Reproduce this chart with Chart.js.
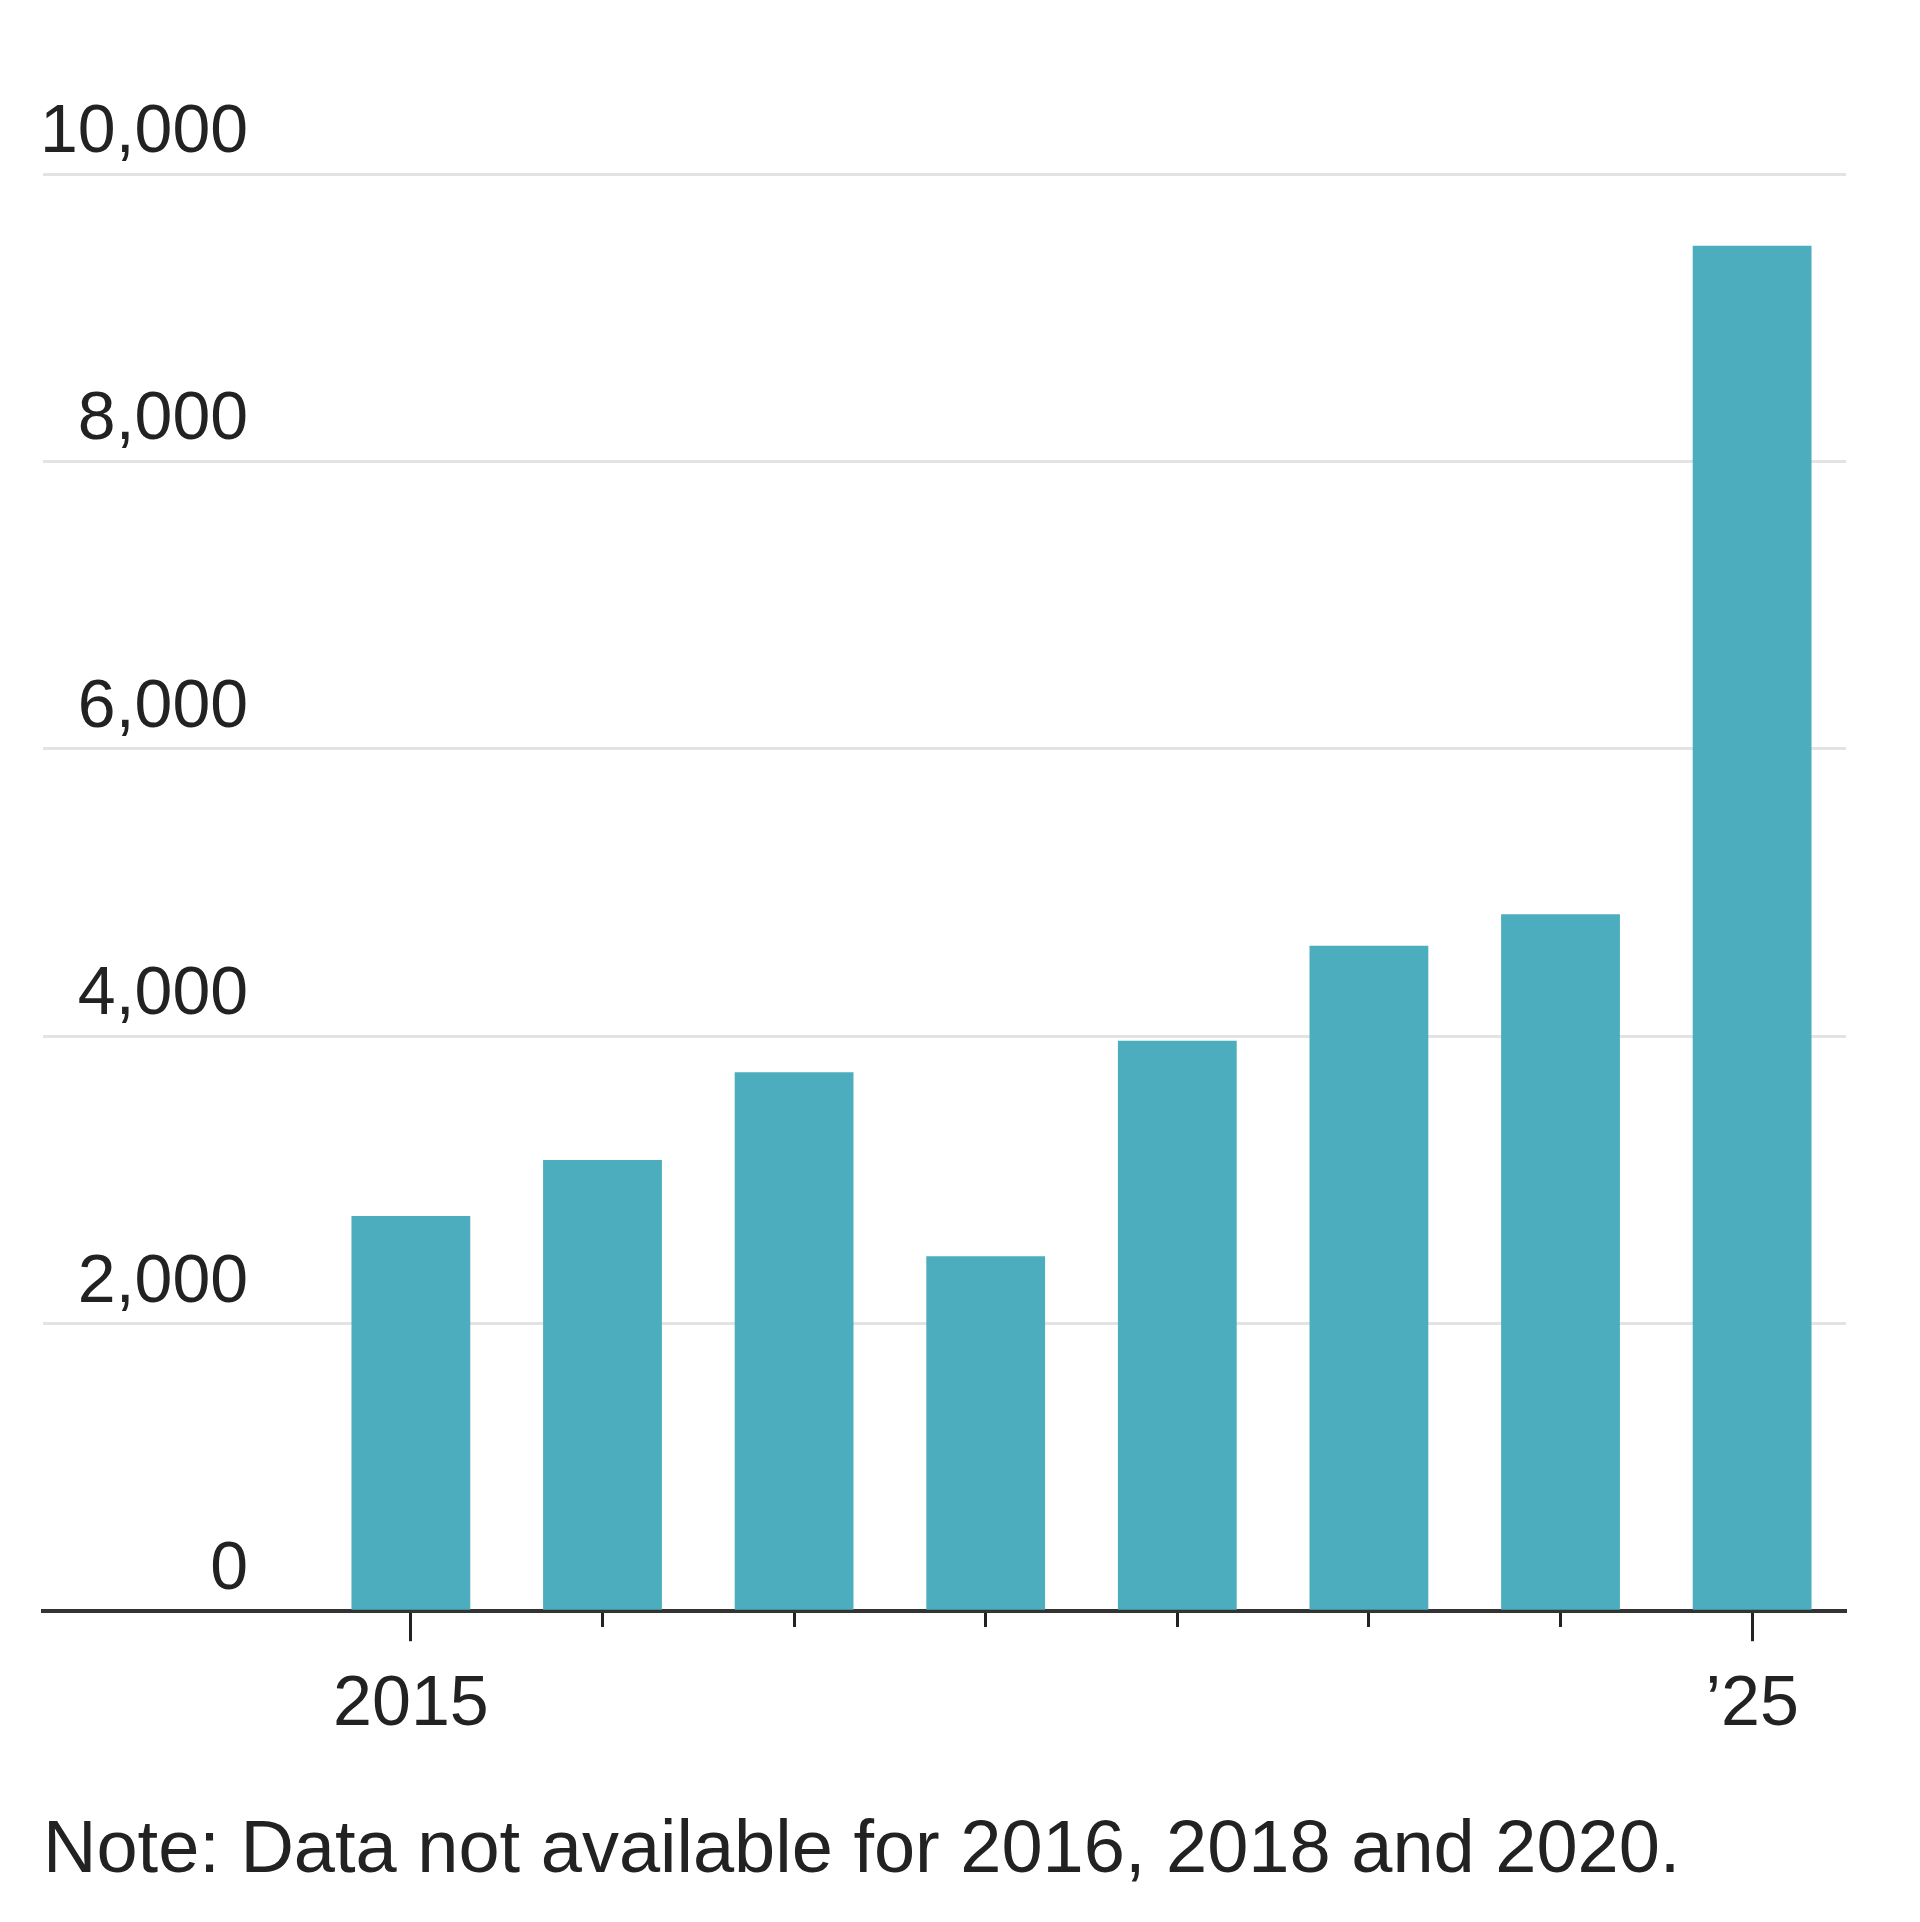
<!DOCTYPE html>
<html>
<head>
<meta charset="utf-8">
<script src="https://cdn.jsdelivr.net/npm/chart.js@4"></script>
<style>
  body { margin: 0; background: #fff; }
  #wrap { width: 1920px; height: 1922px; }
</style>
</head>
<body>
<div id="wrap"><canvas id="my-chart" width="1920" height="1922"></canvas></div>
<script>
const years = [2015, 2017, 2019, 2021, 2022, 2023, 2024, 2025];
const counts = [2750, 3140, 3750, 2470, 3970, 4630, 4850, 9500];
const yTicks = [0, 2000, 4000, 6000, 8000, 10000];
const xTickLabels = ["2015", "", "", "", "", "", "", "\u201925"];
const note = "Note: Data not available for 2016, 2018 and 2020.";

const tickFont = { family: "'Liberation Sans', Arial, sans-serif", size: 68 };

// measure widest y label so the mirrored labels end at the same right edge
const mctx = document.createElement("canvas").getContext("2d");
mctx.font = tickFont.size + "px " + tickFont.family;
const widest = mctx.measureText("10,000").width;
const labelRight = 250;
const plotLeft = 43;

const ctx = document.getElementById("my-chart").getContext("2d");
const chart = new Chart(ctx, {
  type: "bar",
  data: {
    datasets: [
      {
        data: years.map((y, i) => ({ x: i, y: counts[i] })),
        backgroundColor: "#4badbd",
        barPercentage: 0.62,
        categoryPercentage: 1,
      },
    ],
  },
  options: {
    responsive: false,
    animation: false,
    layout: { padding: { left: plotLeft, right: 74, top: 174, bottom: 26 } },
    plugins: {
      legend: { display: false },
      tooltip: { enabled: false },
      title: {
        display: true,
        position: "bottom",
        align: "start",
        text: note,
        color: "#222",
        font: { family: "'Liberation Sans', Arial, sans-serif", size: 74, weight: "normal" },
        padding: { top: 36, bottom: 0 },
      },
    },
    scales: {
      x: {
        type: "linear",
        min: -1.92,
        max: 7.49,
        offset: false,
        afterBuildTicks: (scale) => {
          scale.ticks = years.map((y, i) => ({ value: i }));
        },
        ticks: {
          autoSkip: false,
          maxRotation: 0,
          padding: 23,
          color: "#222",
          font: { family: "'Liberation Sans', Arial, sans-serif", size: 70 },
          callback: (v) => xTickLabels[v],
        },
        grid: {
          offset: false,
          drawOnChartArea: false,
          drawTicks: true,
          tickLength: 30,
          tickColor: "#222",
          tickWidth: 3,
          tickBorderDash: (c) => (c.index === 0 || c.index === years.length - 1 ? [] : [14, 60]),
        },
        border: { display: true, color: "#333", width: 4 },
      },
      y: {
        min: 0,
        max: 10000,
        afterBuildTicks: (scale) => {
          scale.ticks = yTicks.map((v) => ({ value: v }));
        },
        ticks: {
          mirror: true,
          crossAlign: "far",
          padding: labelRight - plotLeft - widest,
          labelOffset: -41,
          color: "#222",
          font: tickFont,
          callback: (v) => v.toLocaleString("en-US"),
        },
        grid: {
          color: "#e3e3e3",
          lineWidth: 3,
          drawTicks: false,
        },
        border: { display: false },
      },
    },
  },
});
</script>
</body>
</html>
